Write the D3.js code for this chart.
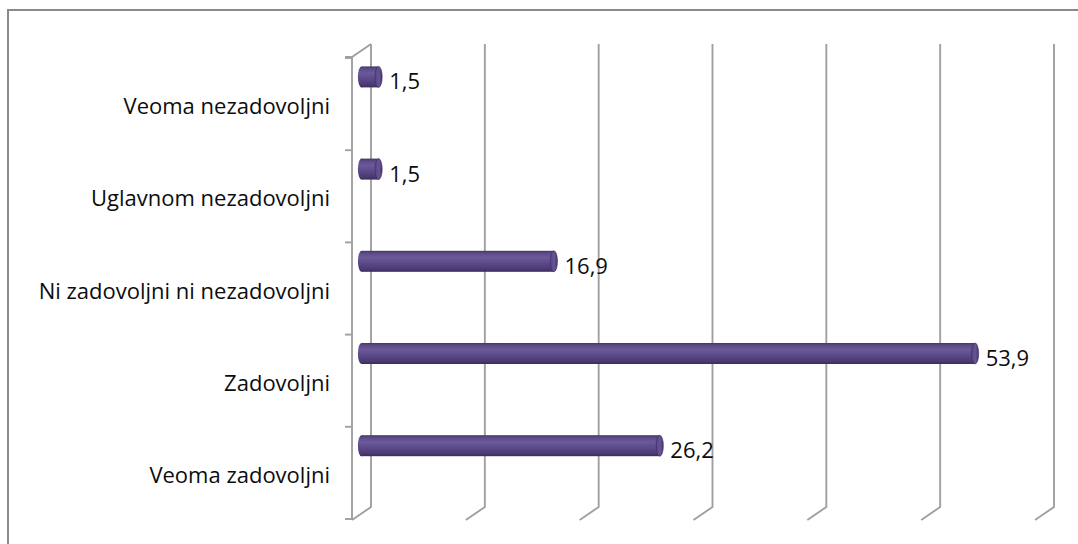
<!DOCTYPE html>
<html>
<head>
<meta charset="utf-8">
<script src="https://cdn.jsdelivr.net/npm/d3@7/dist/d3.min.js"></script>
<style>
  html, body { margin: 0; padding: 0; background: #fff; }
  svg { display: block; }
  text { font-family: "Open Sans", "Noto Sans", sans-serif; fill: #0d0d0d; }
</style>
</head>
<body>
<svg id="chart" width="1078" height="544"></svg>
<script>
// Satisfaction categories, top to bottom
const categories = [
  "Veoma nezadovoljni",
  "Uglavnom nezadovoljni",
  "Ni zadovoljni ni nezadovoljni",
  "Zadovoljni",
  "Veoma zadovoljni"
];
// Share of respondents (%)
const values = [1.5, 1.5, 16.9, 53.9, 26.2];
const valueLabels = ["1,5", "1,5", "16,9", "53,9", "26,2"];
const xTicks = [0, 10, 20, 30, 40, 50, 60];

const svg = d3.select("#chart");

// chart frame
svg.append("path")
  .attr("d", "M8,600 L8,10 L1100,10")
  .attr("fill", "none")
  .attr("stroke", "#8a8a8a")
  .attr("stroke-width", 2);

// back wall plane and depth offset of the 3D floor
const backTop = 44, backBottom = 507;
const depth = { dx: -19, dy: 13 };

const x = d3.scaleLinear().domain([0, 60]).range([371, 1054]);
const y = d3.scaleBand().domain(categories)
  .range([backTop + depth.dy + 1, backBottom + depth.dy - 1]).padding(0);

const grid = svg.append("g")
  .attr("fill", "none")
  .attr("stroke", "#a0a0a0")
  .attr("stroke-width", 1.9);

// vertical gridlines on the back wall, folding forward along the floor
xTicks.forEach(t => {
  const gx = x(t);
  grid.append("path")
    .attr("d", `M${gx},${backTop} L${gx},${backBottom} L${gx + depth.dx},${backBottom + depth.dy}`);
});

// side wall: front edge, top edge, category ticks
const fx = x(0) + depth.dx;
grid.append("path")
  .attr("d", `M${fx - 7},${backTop + depth.dy} L${fx},${backTop + depth.dy} L${x(0)},${backTop}`);
grid.append("line")
  .attr("x1", fx).attr("x2", fx)
  .attr("y1", backTop + depth.dy).attr("y2", backBottom + depth.dy);
const edges = categories.map(c => y(c)).concat([y(categories[categories.length - 1]) + y.bandwidth()]);
edges.forEach(e => {
  grid.append("line")
    .attr("x1", fx - 7).attr("x2", fx)
    .attr("y1", e).attr("y2", e);
});

// cylinder shading
const defs = svg.append("defs");
const grad = defs.append("linearGradient")
  .attr("id", "cyl").attr("x1", 0).attr("y1", 0).attr("x2", 0).attr("y2", 1);
[[0, "#45356a"], [0.12, "#5d4b8a"], [0.32, "#6b599a"], [0.6, "#5c4988"], [0.88, "#4a3972"], [1, "#3a2c5c"]]
  .forEach(([o, c]) => grad.append("stop").attr("offset", o).attr("stop-color", c));
const capGrad = defs.append("linearGradient")
  .attr("id", "cap").attr("x1", 0).attr("y1", 0).attr("x2", 1).attr("y2", 0);
[[0, "#564484"], [0.55, "#665494"], [1, "#47376e"]]
  .forEach(([o, c]) => capGrad.append("stop").attr("offset", o).attr("stop-color", c));

// bars sit half way into the depth
const midDx = depth.dx / 2;
const barH = 21, capRx = 3.6;
const barCenter = c => y(c) + y.bandwidth() * 0.205;

const bars = svg.append("g").selectAll("g").data(categories).join("g");
bars.each(function (c, i) {
  const g = d3.select(this);
  const x0 = x(0) + midDx, x1 = x(values[i]) + midDx;
  const cy = barCenter(c);
  g.append("ellipse")
    .attr("cx", x0).attr("cy", cy).attr("rx", capRx).attr("ry", barH / 2)
    .attr("fill", "url(#cyl)");
  g.append("rect")
    .attr("x", x0).attr("y", cy - barH / 2)
    .attr("width", x1 - x0).attr("height", barH)
    .attr("fill", "url(#cyl)");
  g.append("ellipse")
    .attr("cx", x1).attr("cy", cy).attr("rx", capRx).attr("ry", barH / 2)
    .attr("fill", "url(#cap)")
    .attr("stroke", "#3a2c5c").attr("stroke-width", 0.6);
  g.append("text")
    .attr("x", x1 + capRx + 7).attr("y", cy + 3.5)
    .attr("dominant-baseline", "central")
    .attr("font-size", 22)
    .text(valueLabels[i]);
});

// category labels
svg.append("g").selectAll("text").data(categories).join("text")
  .attr("x", 330)
  .attr("y", c => y(c) + y.bandwidth() / 2 + 1)
  .attr("text-anchor", "end")
  .attr("dominant-baseline", "central")
  .attr("font-size", 22)
  .text(d => d);
</script>
</body>
</html>
